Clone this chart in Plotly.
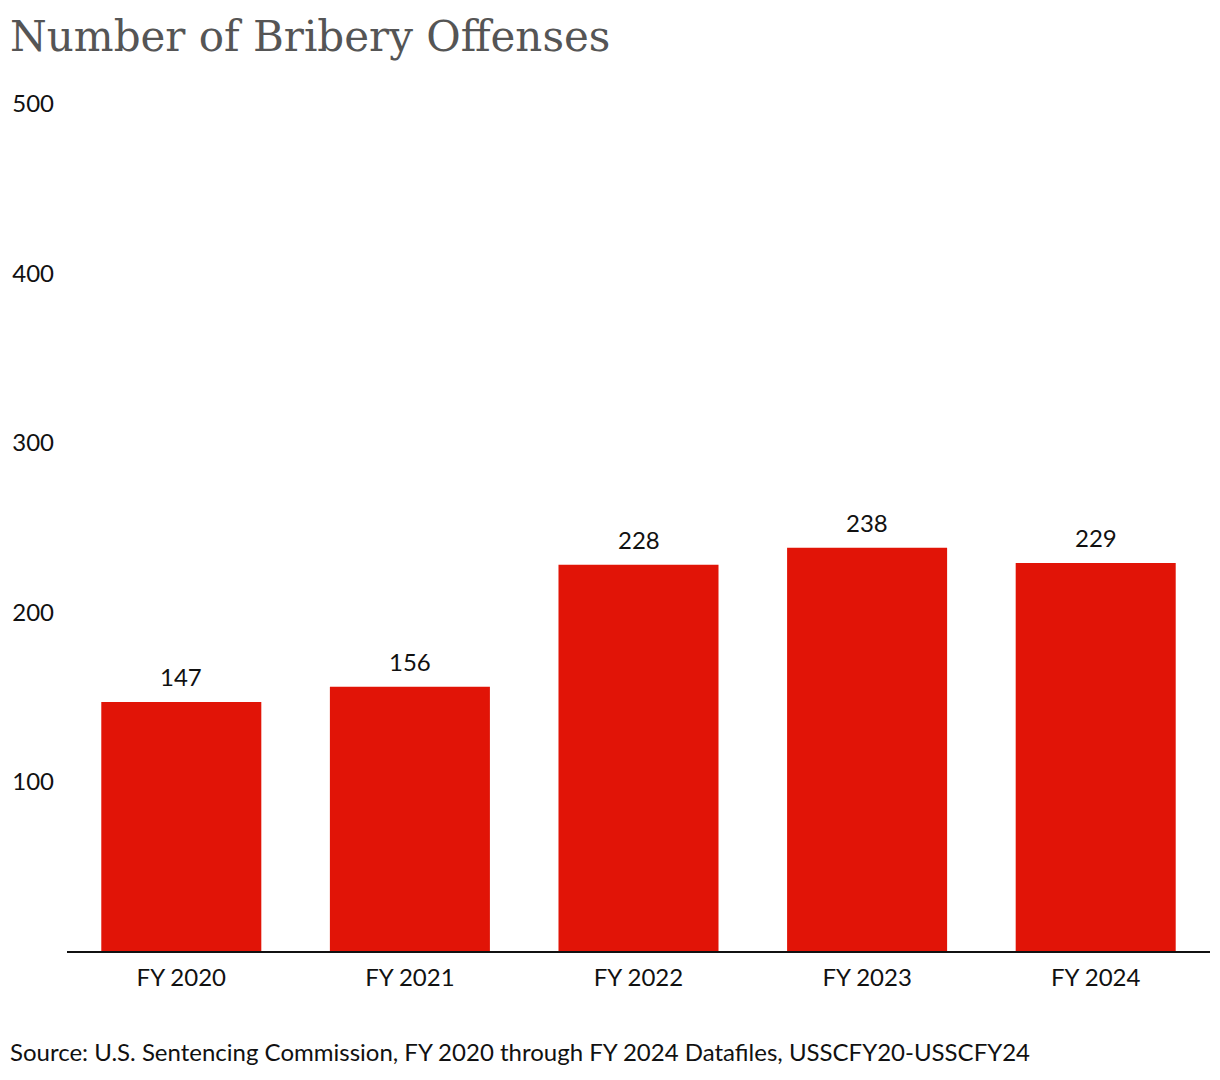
import plotly.graph_objects as go

categories = ["FY 2020", "FY 2021", "FY 2022", "FY 2023", "FY 2024"]
offenses = [147, 156, 228, 238, 229]
y_ticks = [100, 200, 300, 400, 500]

title_text = "Number of Bribery Offenses"
source_text = "Source: U.S. Sentencing Commission, FY 2020 through FY 2024 Datafiles, USSCFY20-USSCFY24"

TEXT = "#111111"
FS = 24

fig = go.Figure(
    go.Bar(
        x=categories,
        y=offenses,
        marker=dict(color="#E11407", line=dict(width=0)),
        width=0.7,
        hoverinfo="skip",
    )
)

annotations = [
    dict(
        text=title_text,
        xref="paper", yref="paper",
        x=0, y=1,
        xanchor="left", yanchor="bottom",
        showarrow=False,
        font=dict(family="DejaVu Serif", size=42, color="#555555"),
        xshift=-59, yshift=41,
    ),
    dict(
        text=source_text,
        xref="paper", yref="paper",
        x=0, y=0,
        xanchor="left", yanchor="top",
        showarrow=False,
        font=dict(family="Lato", size=FS, color=TEXT),
        xshift=-59, yshift=-84,
    ),
]
for c, v in zip(categories, offenses):
    annotations.append(
        dict(
            text=str(v),
            x=c, y=v,
            xref="x", yref="y",
            xanchor="center", yanchor="bottom",
            showarrow=False,
            yshift=9,
            font=dict(family="Lato", size=FS, color=TEXT),
        )
    )

fig.update_layout(
    width=1220,
    height=1080,
    paper_bgcolor="white",
    plot_bgcolor="white",
    margin=dict(l=59, r=18, t=96, b=137, autoexpand=False),
    showlegend=False,
    font=dict(family="Lato", size=FS, color=TEXT),
    annotations=annotations,
)

fig.update_xaxes(
    showline=True,
    linecolor="#111111",
    linewidth=2,
    showgrid=False,
    ticks="",
    ticklabelstandoff=4,
    tickfont=dict(family="Lato", size=FS, color=TEXT),
    automargin=False,
    fixedrange=True,
)

fig.update_yaxes(
    range=[0, 500],
    tickvals=y_ticks,
    ticktext=[str(v) for v in y_ticks],
    showgrid=False,
    zeroline=False,
    showline=False,
    ticks="",
    ticklabelstandoff=12,
    tickfont=dict(family="Lato", size=FS, color=TEXT),
    automargin=False,
    fixedrange=True,
)

fig.write_html("out.html")
